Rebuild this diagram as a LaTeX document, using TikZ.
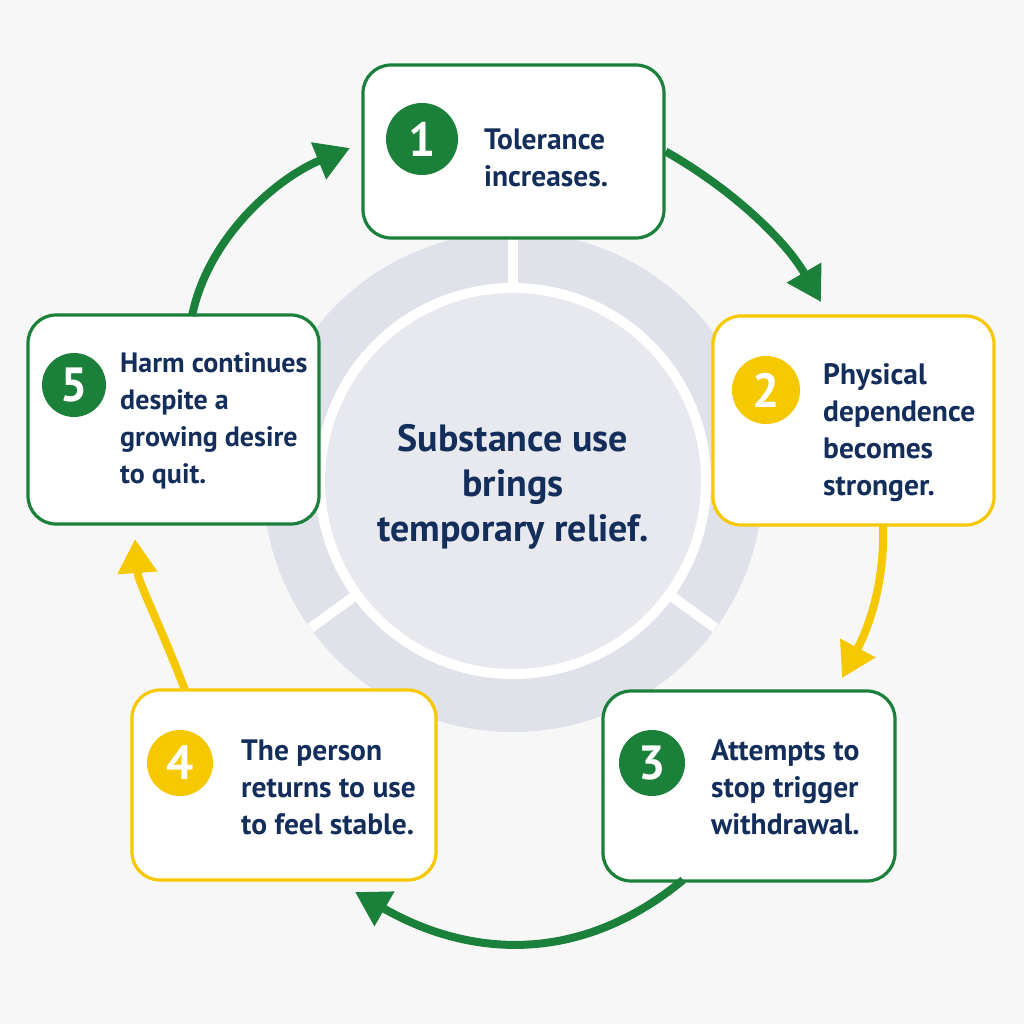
\documentclass[tikz,border=0pt]{standalone}
\usepackage{fontspec}
\setmainfont{PT Sans}
\usetikzlibrary{arrows.meta}
\definecolor{bg}{RGB}{247,247,248}
\definecolor{ringc}{RGB}{223,226,233}
\definecolor{innerc}{RGB}{231,233,239}
\definecolor{gr}{RGB}{27,128,58}
\definecolor{yl}{RGB}{245,200,0}
\definecolor{navy}{RGB}{20,46,92}
\begin{document}
\begin{tikzpicture}[x=1pt,y=-1pt,
  stepbox/.style={draw, line width=3.2pt, rounded corners=28pt, fill=white, inner sep=0pt},
  numc/.style={circle, inner sep=0pt, text=white, font=\fontsize{48}{48}\selectfont\bfseries},
  txt/.style={anchor=west, align=left, text=navy, inner sep=0pt, font=\fontsize{29.5}{37}\selectfont\bfseries},
  txtsm/.style={txt, font=\fontsize{28}{37}\selectfont\bfseries},
  ctxt/.style={align=center, text=navy, inner sep=0pt, font=\fontsize{38}{45}\selectfont\bfseries},
  arr/.style={line width=8pt, -{Triangle[length=34pt,width=38pt]}}
]
\fill[bg] (0,0) rectangle (1024,1024);
\useasboundingbox (0,0) rectangle (1024,1024);
% ring
\fill[ringc] (513,482) circle[radius=250pt];
\fill[white] (513,481) circle[radius=198pt];
\fill[innerc] (513,481) circle[radius=188pt];
\draw[white, line width=10pt] (513,292) -- (513,228);
\draw[white, line width=10pt] (666.7,592.7) -- (715.3,628.0);
\draw[white, line width=10pt] (359.3,592.7) -- (310.7,628.0);
\node[ctxt] (c) at (513,487) {Substance use\\brings\\temporary relief.};
% boxes
\node[stepbox, draw=gr, minimum width=301pt, minimum height=173pt] (b1) at (513.5,151.5) {};
\node[stepbox, draw=yl, minimum width=281pt, minimum height=209pt] (b2) at (853.5,420.5) {};
\node[stepbox, draw=gr, minimum width=292pt, minimum height=190pt] (b3) at (749,786) {};
\node[stepbox, draw=yl, minimum width=304pt, minimum height=190pt] (b4) at (284,785) {};
\node[stepbox, draw=gr, minimum width=291pt, minimum height=209pt] (b5) at (173.5,419.5) {};
% arrow ends
\coordinate (e1) at (821,302);
\coordinate (s2) at (883,524);
\coordinate (e2) at (842,678);
\coordinate (s3) at (683,880);
\coordinate (e3) at (355,892);
\coordinate (s4) at (185,690);
\coordinate (e4) at (135,539);
\coordinate (s5) at (192,316);
\coordinate (e5) at (350,148);
\draw[arr, gr] (b1.east) .. controls (730,188) and (784.5,238.8) .. (e1);
\draw[arr, yl] (s2) .. controls (885,580) and (870,625) .. (e2);
\draw[arr, gr] (s3) .. controls (580,965) and (470,958) .. (e3);
\draw[arr, yl] (s4) .. controls (158,620) and (138,582) .. (e4);
\draw[arr, gr] (s5) .. controls (208,237) and (277,178) .. (e5);
% numbers
\node[numc, fill=gr, minimum size=72pt] (n1) at (422,139) {1};
\node[numc, fill=yl, minimum size=68pt] (n2) at (766,390) {2};
\node[numc, fill=gr, minimum size=66pt] (n3) at (652,763) {3};
\node[numc, fill=yl, minimum size=66pt] (n4) at (180,763) {4};
\node[numc, fill=gr, minimum size=64pt] (n5) at (74,385) {5};
% texts
\node[txt] (t1) at (484,158) {Tolerance\\increases.};
\node[txt] (t2) at (823,433) {Physical\\dependence\\becomes\\stronger.};
\node[txt] (t3) at (711,787) {Attempts to\\stop trigger\\withdrawal.};
\node[txt] (t4) at (241,787) {The person\\returns to use\\to feel stable.};
\node[txtsm] (t5) at (120,421) {Harm continues\\despite a\\growing desire\\to quit.};
\end{tikzpicture}
\end{document}
